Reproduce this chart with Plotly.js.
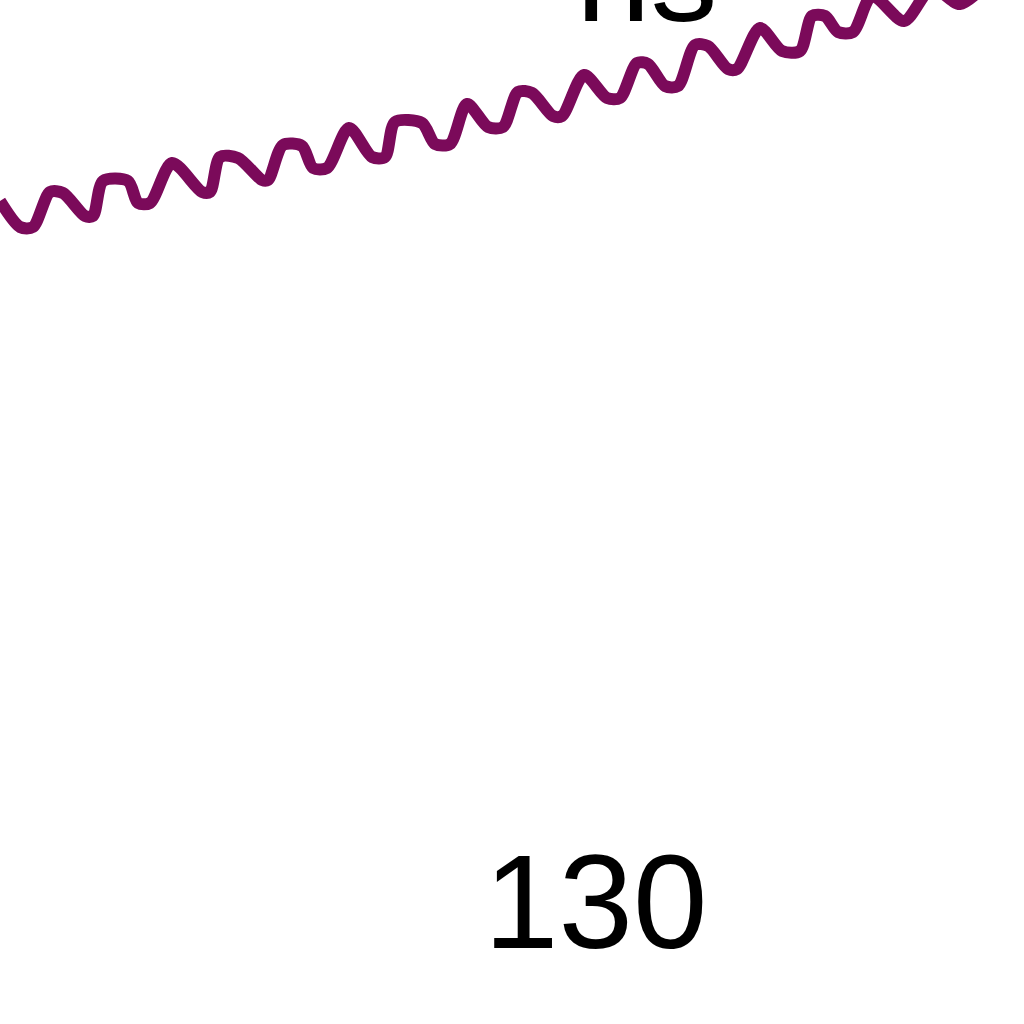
<!DOCTYPE html>
<html>
<head>
<meta charset="utf-8">
<script src="https://cdn.plot.ly/plotly-3.0.1.min.js"></script>
<style>
  html, body { margin: 0; padding: 0; background: #ffffff; }
  #chart { width: 1024px; height: 1024px; }
</style>
</head>
<body>
<div id="chart"></div>
<script>
// Values (arbitrary units; no axes are visible in the crop)
const timeValues = [0, 2.0, 3.3, 5.0, 6.3, 8.5, 9.3, 10.3, 12.8, 13.8, 15.0, 17.2, 20.2, 21.0, 22.0, 23.8, 26.2, 26.8, 28.3, 30.2, 31.3, 32.7, 34.9, 37.2, 38.5, 39.5, 42.2, 43.5, 45.0, 46.7, 48.8, 50.3, 51.8, 53.2, 55.3, 56.2, 58.4, 60.7, 62.0, 63.7, 64.8, 66.5, 67.8, 69.5, 70.8, 72.8, 73.7, 76.0, 78.2, 80.0, 81.2, 82.5, 83.8, 85.3, 87.2, 90.4, 93.2, 96.0, 99.0];
const seriesValues = [82.3, 79.7, 79.7, 83.2, 83.1, 80.8, 80.8, 84.3, 84.3, 82.1, 82.1, 86.1, 83.2, 83.2, 86.7, 86.6, 84.4, 84.4, 87.9, 87.8, 85.6, 85.6, 89.6, 86.7, 86.7, 90.2, 90.1, 88.0, 88.0, 92.0, 89.7, 89.7, 93.2, 93.1, 90.8, 90.8, 94.9, 92.6, 92.6, 96.1, 96.0, 93.8, 93.8, 97.9, 97.8, 95.5, 95.5, 99.6, 97.3, 97.3, 100.8, 100.8, 99.2, 99.2, 102.8, 100.3, 103.6, 102.0, 104.4];
const labelBottom = "130";
const labelTop = "ns";

const trace = {
  x: timeValues,
  y: seriesValues,
  type: "scatter",
  mode: "lines",
  line: { color: "#7b0a5a", width: 12, shape: "spline", smoothing: 0.8 },
  hoverinfo: "skip"
};

const layout = {
  width: 1024,
  height: 1024,
  margin: { l: 0, r: 0, t: 0, b: 0, pad: 0 },
  paper_bgcolor: "#ffffff",
  plot_bgcolor: "#ffffff",
  showlegend: false,
  xaxis: { range: [0, 102.4], visible: false, fixedrange: true },
  yaxis: { range: [0, 102.4], visible: false, fixedrange: true },
  annotations: [
    {
      text: labelBottom, xref: "x", yref: "y", x: 48.2, y: 4.6,
      xanchor: "left", yanchor: "bottom", showarrow: false,
      font: { family: "Liberation Sans, Arial, sans-serif", size: 134, color: "#000000" }
    },
    {
      text: labelTop, xref: "x", yref: "y", x: 57.4, y: 97.3,
      xanchor: "left", yanchor: "bottom", showarrow: false,
      font: { family: "Liberation Sans, Arial, sans-serif", size: 134, color: "#000000" }
    }
  ]
};

Plotly.newPlot("chart", [trace], layout, { staticPlot: true, displayModeBar: false });
</script>
</body>
</html>
